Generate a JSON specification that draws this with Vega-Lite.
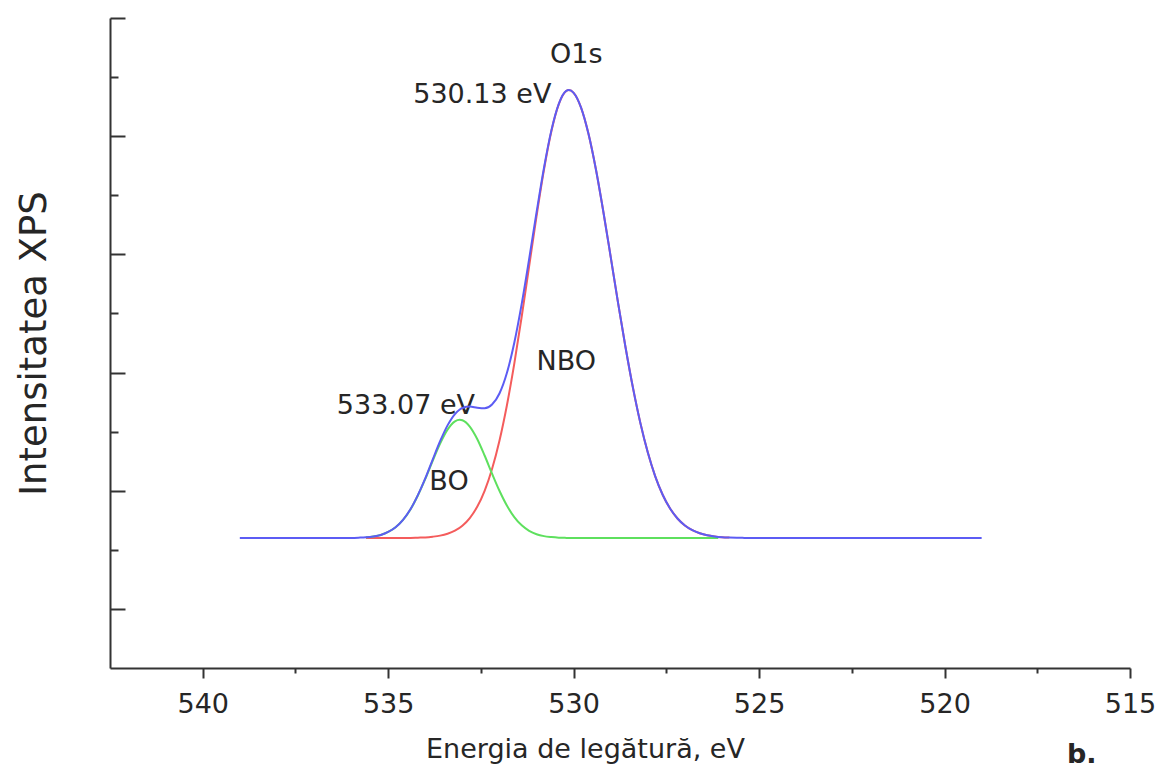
{
  "$schema": "https://vega.github.io/schema/vega-lite/v6.json",
  "width": 1020,
  "height": 650,
  "autosize": {"type": "none"},
  "padding": {"left": 110, "top": 18, "right": 31, "bottom": 103},
  "background": "white",
  "config": {"view": {"stroke": null}, "font": "DejaVu Sans"},
  "datasets": {
    "total": [
      {"e": 539.0, "i": 0.600}, {"e": 536.4, "i": 0.600}, {"e": 536.0, "i": 0.601}, {"e": 535.8, "i": 0.603},
      {"e": 535.6, "i": 0.606}, {"e": 535.4, "i": 0.613}, {"e": 535.2, "i": 0.626}, {"e": 535.0, "i": 0.651},
      {"e": 534.8, "i": 0.691}, {"e": 534.6, "i": 0.754}, {"e": 534.4, "i": 0.843}, {"e": 534.2, "i": 0.963},
      {"e": 534.0, "i": 1.105}, {"e": 533.8, "i": 1.264}, {"e": 533.6, "i": 1.419}, {"e": 533.4, "i": 1.553},
      {"e": 533.2, "i": 1.649}, {"e": 533.07, "i": 1.687}, {"e": 533.0, "i": 1.700}, {"e": 532.8, "i": 1.712},
      {"e": 532.6, "i": 1.702}, {"e": 532.4, "i": 1.697}, {"e": 532.2, "i": 1.729}, {"e": 532.0, "i": 1.823},
      {"e": 531.8, "i": 1.996}, {"e": 531.6, "i": 2.252}, {"e": 531.4, "i": 2.581}, {"e": 531.2, "i": 2.960},
      {"e": 531.0, "i": 3.355}, {"e": 530.8, "i": 3.731}, {"e": 530.6, "i": 4.049}, {"e": 530.4, "i": 4.274},
      {"e": 530.2, "i": 4.383}, {"e": 530.13, "i": 4.390}, {"e": 530.0, "i": 4.367}, {"e": 529.8, "i": 4.242},
      {"e": 529.6, "i": 4.020}, {"e": 529.4, "i": 3.720}, {"e": 529.2, "i": 3.363}, {"e": 529.0, "i": 2.977},
      {"e": 528.8, "i": 2.586}, {"e": 528.6, "i": 2.212}, {"e": 528.4, "i": 1.870}, {"e": 528.2, "i": 1.572},
      {"e": 528.0, "i": 1.323}, {"e": 527.8, "i": 1.122}, {"e": 527.6, "i": 0.966}, {"e": 527.4, "i": 0.849},
      {"e": 527.2, "i": 0.765}, {"e": 527.0, "i": 0.706}, {"e": 526.8, "i": 0.666}, {"e": 526.6, "i": 0.640},
      {"e": 526.4, "i": 0.623}, {"e": 526.2, "i": 0.613}, {"e": 526.0, "i": 0.607}, {"e": 525.8, "i": 0.604},
      {"e": 525.6, "i": 0.602}, {"e": 525.4, "i": 0.601}, {"e": 525.0, "i": 0.600}, {"e": 519.0, "i": 0.600}
    ],
    "nbo": [
      {"e": 535.6, "i": 0.600}, {"e": 535.0, "i": 0.600}, {"e": 534.6, "i": 0.601}, {"e": 534.4, "i": 0.601},
      {"e": 534.2, "i": 0.603}, {"e": 534.0, "i": 0.605}, {"e": 533.8, "i": 0.611}, {"e": 533.6, "i": 0.620},
      {"e": 533.4, "i": 0.636}, {"e": 533.2, "i": 0.662}, {"e": 533.0, "i": 0.704}, {"e": 532.8, "i": 0.769},
      {"e": 532.6, "i": 0.864}, {"e": 532.4, "i": 0.999}, {"e": 532.2, "i": 1.184}, {"e": 532.0, "i": 1.423},
      {"e": 531.8, "i": 1.721}, {"e": 531.6, "i": 2.075}, {"e": 531.4, "i": 2.474}, {"e": 531.2, "i": 2.899},
      {"e": 531.0, "i": 3.323}, {"e": 530.8, "i": 3.715}, {"e": 530.6, "i": 4.041}, {"e": 530.4, "i": 4.271},
      {"e": 530.2, "i": 4.382}, {"e": 530.13, "i": 4.390}, {"e": 530.0, "i": 4.367}, {"e": 529.8, "i": 4.242},
      {"e": 529.6, "i": 4.020}, {"e": 529.4, "i": 3.720}, {"e": 529.2, "i": 3.363}, {"e": 529.0, "i": 2.977},
      {"e": 528.8, "i": 2.586}, {"e": 528.6, "i": 2.212}, {"e": 528.4, "i": 1.870}, {"e": 528.2, "i": 1.572},
      {"e": 528.0, "i": 1.323}, {"e": 527.8, "i": 1.122}, {"e": 527.6, "i": 0.966}, {"e": 527.4, "i": 0.849},
      {"e": 527.2, "i": 0.765}, {"e": 527.0, "i": 0.706}, {"e": 526.8, "i": 0.666}, {"e": 526.6, "i": 0.640},
      {"e": 526.4, "i": 0.623}, {"e": 526.2, "i": 0.613}, {"e": 526.0, "i": 0.607}, {"e": 525.8, "i": 0.604}
    ],
    "bo": [
      {"e": 535.6, "i": 0.606}, {"e": 535.4, "i": 0.613}, {"e": 535.2, "i": 0.626}, {"e": 535.0, "i": 0.651},
      {"e": 534.8, "i": 0.691}, {"e": 534.6, "i": 0.753}, {"e": 534.4, "i": 0.842}, {"e": 534.2, "i": 0.960},
      {"e": 534.0, "i": 1.100}, {"e": 533.8, "i": 1.253}, {"e": 533.6, "i": 1.399}, {"e": 533.4, "i": 1.517},
      {"e": 533.2, "i": 1.587}, {"e": 533.07, "i": 1.600}, {"e": 533.0, "i": 1.596}, {"e": 532.8, "i": 1.543},
      {"e": 532.6, "i": 1.438}, {"e": 532.4, "i": 1.298}, {"e": 532.2, "i": 1.145}, {"e": 532.0, "i": 1.000},
      {"e": 531.8, "i": 0.875}, {"e": 531.6, "i": 0.777}, {"e": 531.4, "i": 0.707}, {"e": 531.2, "i": 0.661},
      {"e": 531.0, "i": 0.632}, {"e": 530.8, "i": 0.616}, {"e": 530.6, "i": 0.608}, {"e": 530.4, "i": 0.603},
      {"e": 530.2, "i": 0.601}, {"e": 530.0, "i": 0.600}, {"e": 526.1, "i": 0.600}
    ],
    "labelsC": [
      {"e": 529.93, "i": 4.687, "t": "O1s"},
      {"e": 530.2, "i": 2.09, "t": "NBO"},
      {"e": 533.36, "i": 1.074, "t": "BO"}
    ],
    "labelsR": [
      {"e": 530.6, "i": 4.349, "t": "530.13 eV"},
      {"e": 532.66, "i": 1.717, "t": "533.07 eV"}
    ],
    "panel": [
      {"e": 516.3, "i": -1.24, "t": "b."}
    ]
  },
  "layer": [
    {
      "data": {"name": "labelsC"},
      "mark": {"type": "text", "align": "center", "baseline": "middle", "fontSize": 27, "font": "DejaVu Sans", "color": "#262626"},
      "encoding": {
        "x": {"field": "e", "type": "quantitative", "scale": {"domain": [515, 542.5], "reverse": true, "nice": false, "zero": false},
          "axis": {"orient": "bottom", "values": [537.5, 532.5, 527.5, 522.5, 517.5], "tickSize": 5, "tickWidth": 2, "tickColor": "#333333", "labels": false, "domain": false, "grid": false, "title": null}},
        "y": {"field": "i", "type": "quantitative", "scale": {"domain": [-0.5, 5], "nice": false, "zero": false},
          "axis": {"orient": "left", "values": [0.5, 1.5, 2.5, 3.5, 4.5], "tickSize": -8, "tickWidth": 2, "tickColor": "#333333", "labels": false, "domain": false, "grid": false, "title": null}},
        "text": {"field": "t"}
      }
    },
    {
      "data": {"name": "labelsR"},
      "mark": {"type": "text", "align": "right", "baseline": "middle", "fontSize": 27, "font": "DejaVu Sans", "color": "#262626"},
      "encoding": {
        "x": {"field": "e", "type": "quantitative", "axis": null},
        "y": {"field": "i", "type": "quantitative", "axis": null},
        "text": {"field": "t"}
      }
    },
    {
      "data": {"name": "panel"},
      "mark": {"type": "text", "align": "center", "baseline": "middle", "fontSize": 27, "fontWeight": "bold", "font": "DejaVu Sans", "color": "#262626"},
      "encoding": {
        "x": {"field": "e", "type": "quantitative", "axis": null},
        "y": {"field": "i", "type": "quantitative", "axis": null},
        "text": {"field": "t"}
      }
    },
    {
      "data": {"name": "nbo"},
      "mark": {"type": "line", "interpolate": "monotone", "strokeWidth": 2, "color": "#f45c5c"},
      "encoding": {
        "x": {"field": "e", "type": "quantitative", "axis": null},
        "y": {"field": "i", "type": "quantitative", "axis": null}
      }
    },
    {
      "data": {"name": "bo"},
      "mark": {"type": "line", "interpolate": "monotone", "strokeWidth": 2, "color": "#5ee05e"},
      "encoding": {
        "x": {"field": "e", "type": "quantitative", "axis": null},
        "y": {"field": "i", "type": "quantitative", "axis": null}
      }
    },
    {
      "data": {"name": "total"},
      "mark": {"type": "line", "interpolate": "monotone", "strokeWidth": 2, "color": "#5c5cf4"},
      "encoding": {
        "x": {"field": "e", "type": "quantitative",
          "axis": {"orient": "bottom", "values": [540, 535, 530, 525, 520, 515], "format": "d", "tickSize": 10, "tickWidth": 2, "tickColor": "#333333",
            "domainWidth": 2, "domainColor": "#333333", "grid": false, "labelFlush": false,
            "labelFont": "DejaVu Sans", "labelFontSize": 27, "labelColor": "#262626", "labelBaseline": "alphabetic", "labelPadding": 34,
            "title": "Energia de legătură, eV", "titleFont": "DejaVu Sans", "titleFontSize": 27, "titleFontWeight": "normal", "titleColor": "#262626",
            "titleX": 475, "titleY": 89, "titleBaseline": "alphabetic"}},
        "y": {"field": "i", "type": "quantitative",
          "axis": {"orient": "left", "values": [0, 1, 2, 3, 4, 5], "tickSize": -15, "tickWidth": 2, "tickColor": "#333333",
            "domainWidth": 2, "domainColor": "#333333", "grid": false, "labels": false,
            "title": "Intensitatea XPS", "titleFont": "DejaVu Sans", "titleFontSize": 37, "titleFontWeight": "normal", "titleColor": "#262626",
            "titlePadding": 56}}
      }
    }
  ],
  "resolve": {"axis": {"x": "independent", "y": "independent"}}
}
